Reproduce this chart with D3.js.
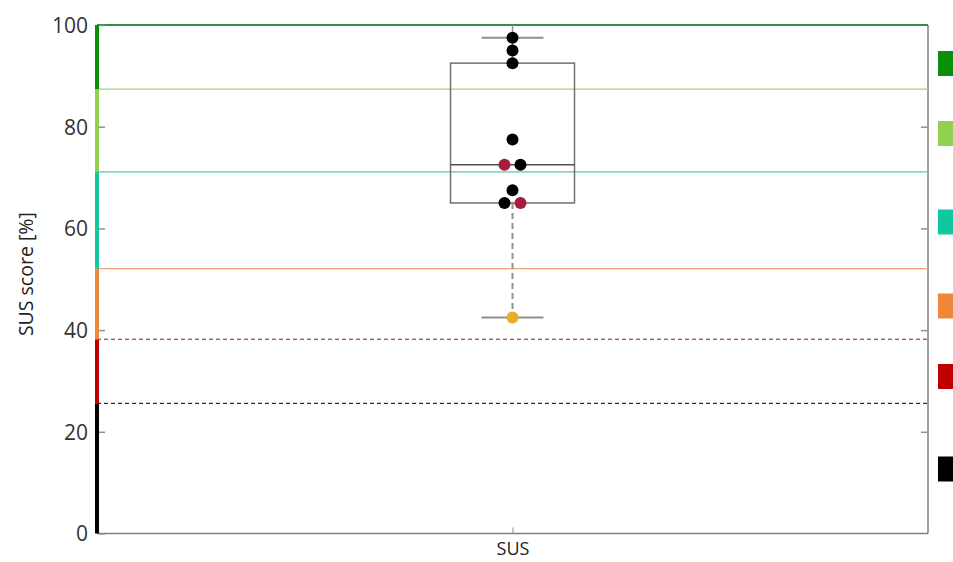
<!DOCTYPE html>
<html>
<head>
<meta charset="utf-8">
<script src="https://cdn.jsdelivr.net/npm/d3@7"></script>
<style>
  body { margin: 0; background: #fff; }
  text { font-family: "Open Sans", sans-serif; }
</style>
</head>
<body>
<svg id="chart" width="953" height="562"></svg>
<script>
// SUS scores of participants, with a group tag for the dot colour
const scores = [97.5, 95, 92.5, 77.5, 72.5, 72.5, 67.5, 65, 65, 42.5];
const groups = ['a', 'a', 'a', 'a', 'b', 'a', 'a', 'a', 'b', 'c'];
const categories = ['SUS'];

// adjective scale band edges (bottom -> top) and their colours
const bandEdges = [0, 25.6, 38.2, 52.1, 71.1, 87.4, 100];
const bandColors = ['#000000', '#c00000', '#f0883c', '#10c8a0', '#92d050', '#0a8f0a'];
const edgeLineColors = [null, '#3a2a2a', '#8a1a1a', '#f0a070', '#50c8b8', '#a8d080', '#3c8a3c'];
const edgeDashed = [false, true, true, false, false, false, false];

const yTicks = [0, 20, 40, 60, 80, 100];

const MARGIN = { LEFT: 97, RIGHT: 25, TOP: 25, BOTTOM: 28.5 };
const WIDTH = 953, HEIGHT = 562;

const svg = d3.select('#chart');

const xScale = d3.scalePoint()
    .domain(categories)
    .range([MARGIN.LEFT, WIDTH - MARGIN.RIGHT]);

const yScale = d3.scaleLinear()
    .domain([0, 100])
    .range([HEIGHT - MARGIN.BOTTOM, MARGIN.TOP]);

const color = d3.scaleOrdinal()
    .domain(['a', 'b', 'c'])
    .range(['#000000', '#a51c3c', '#e8b020']);

// frame: bottom and right lines
svg.append('line')
    .attr('x1', MARGIN.LEFT).attr('x2', WIDTH - MARGIN.RIGHT)
    .attr('y1', yScale(0)).attr('y2', yScale(0))
    .attr('stroke', '#808080').attr('stroke-width', 1.5);
svg.append('line')
    .attr('x1', WIDTH - MARGIN.RIGHT).attr('x2', WIDTH - MARGIN.RIGHT)
    .attr('y1', yScale(0)).attr('y2', yScale(100))
    .attr('stroke', '#808080').attr('stroke-width', 1.5);

// horizontal band edge lines
svg.append('g')
    .selectAll('line')
    .data(bandEdges.map((v, i) => ({ v, i })).filter(d => edgeLineColors[d.i]))
    .join('line')
    .attr('x1', MARGIN.LEFT).attr('x2', WIDTH - MARGIN.RIGHT)
    .attr('y1', d => yScale(d.v)).attr('y2', d => yScale(d.v))
    .attr('stroke', d => edgeLineColors[d.i])
    .attr('stroke-width', d => d.v === 100 ? 2 : 1.2)
    .attr('stroke-dasharray', d => edgeDashed[d.i] ? '4,3' : null);

// coloured left axis bands
svg.append('g')
    .selectAll('line')
    .data(bandColors.map((c, i) => ({ c, lo: bandEdges[i], hi: bandEdges[i + 1] })))
    .join('line')
    .attr('x1', MARGIN.LEFT).attr('x2', MARGIN.LEFT)
    .attr('y1', d => yScale(d.lo)).attr('y2', d => yScale(d.hi))
    .attr('stroke', d => d.c)
    .attr('stroke-width', 4);

// y axis ticks + labels (left), inner ticks on right
const yAxis = d3.axisLeft(yScale).tickValues(yTicks).tickSize(-6).tickPadding(10);
const yG = svg.append('g')
    .attr('transform', `translate(${MARGIN.LEFT}, 0)`)
    .call(yAxis);
yG.select('.domain').remove();
yG.selectAll('.tick line').attr('stroke', '#909090').attr('stroke-width', 1.5).attr('x1', 2).attr('x2', 8);
yG.selectAll('.tick text').attr('font-size', 21).attr('fill', '#333').attr('dy', '0.35em').attr('x', -9);

const yR = svg.append('g')
    .attr('transform', `translate(${WIDTH - MARGIN.RIGHT}, 0)`)
    .call(d3.axisRight(yScale).tickValues(yTicks.filter(t => t > 0 && t < 100)).tickSize(-7).tickFormat(''));
yR.select('.domain').remove();
yR.selectAll('.tick line').attr('stroke', '#909090').attr('stroke-width', 1.5);

// x axis
const xG = svg.append('g')
    .attr('transform', `translate(0, ${yScale(0)})`)
    .call(d3.axisBottom(xScale).tickSize(-6).tickPadding(10));
xG.select('.domain').remove();
xG.selectAll('.tick line').attr('stroke', '#909090');
xG.selectAll('.tick text')
    .attr('font-size', 18).attr('fill', '#222')
    .attr('y', 21).attr('dy', null);

// y label
svg.append('text')
    .attr('transform', `translate(33, ${yScale(51)}) rotate(-90)`)
    .attr('text-anchor', 'middle')
    .attr('font-size', 19.5)
    .attr('fill', '#222')
    .text('SUS score [%]');

// box plot stats
const sorted = scores.slice().sort(d3.ascending);
const q1 = d3.quantile(sorted, 0.25);
const med = d3.median(sorted);
const q3 = d3.quantile(sorted, 0.75);
const wLo = d3.min(sorted), wHi = d3.max(sorted);
// matlab style quartiles use nearest data; snap to data values
const snap = v => sorted.reduce((a, b) => Math.abs(b - v) < Math.abs(a - v) ? b : a);
const Q1 = snap(q1), Q3 = snap(q3), MED = med;

const cx = xScale('SUS');
const boxW = 124, capW = 62;
const box = svg.append('g');

box.append('line')
    .attr('x1', cx).attr('x2', cx)
    .attr('y1', yScale(Q1)).attr('y2', yScale(wLo))
    .attr('stroke', '#909090').attr('stroke-width', 2).attr('stroke-dasharray', '6,4');
box.append('line')
    .attr('x1', cx).attr('x2', cx)
    .attr('y1', yScale(Q3)).attr('y2', yScale(100))
    .attr('stroke', '#909090').attr('stroke-width', 1.5);
box.append('rect')
    .attr('x', cx - boxW / 2).attr('width', boxW)
    .attr('y', yScale(Q3)).attr('height', yScale(Q1) - yScale(Q3))
    .attr('fill', 'none').attr('stroke', '#707070').attr('stroke-width', 1.5);
box.append('line')
    .attr('x1', cx - boxW / 2).attr('x2', cx + boxW / 2)
    .attr('y1', yScale(MED)).attr('y2', yScale(MED))
    .attr('stroke', '#505050').attr('stroke-width', 1.5);
box.selectAll('.cap')
    .data([wLo, wHi])
    .join('line')
    .attr('class', 'cap')
    .attr('x1', cx - capW / 2).attr('x2', cx + capW / 2)
    .attr('y1', d => yScale(d)).attr('y2', d => yScale(d))
    .attr('stroke', '#909090').attr('stroke-width', 2);

// dots, spread sideways when values repeat
const points = scores.map((v, i) => ({ v, g: groups[i] }));
const seen = d3.rollup(points, p => p.length, p => p.v);
const count = new Map();
points.forEach(p => {
    const n = seen.get(p.v);
    const k = count.get(p.v) || 0;
    count.set(p.v, k + 1);
    p.dx = (k - (n - 1) / 2) * 16;
});

svg.append('g')
    .selectAll('circle')
    .data(points)
    .join('circle')
    .attr('cx', d => cx + d.dx)
    .attr('cy', d => yScale(d.v))
    .attr('r', 6)
    .attr('fill', d => color(d.g));

// legend swatches (labels cropped off to the right)
const legendY = [63.5, 133.5, 222, 306, 376.5, 469];
svg.append('g')
    .selectAll('rect')
    .data(bandColors.slice().reverse().map((c, i) => ({ c, y: legendY[i] })))
    .join('rect')
    .attr('x', 938).attr('width', 20)
    .attr('y', d => d.y - 12.5).attr('height', 25)
    .attr('fill', d => d.c);
</script>
</body>
</html>
